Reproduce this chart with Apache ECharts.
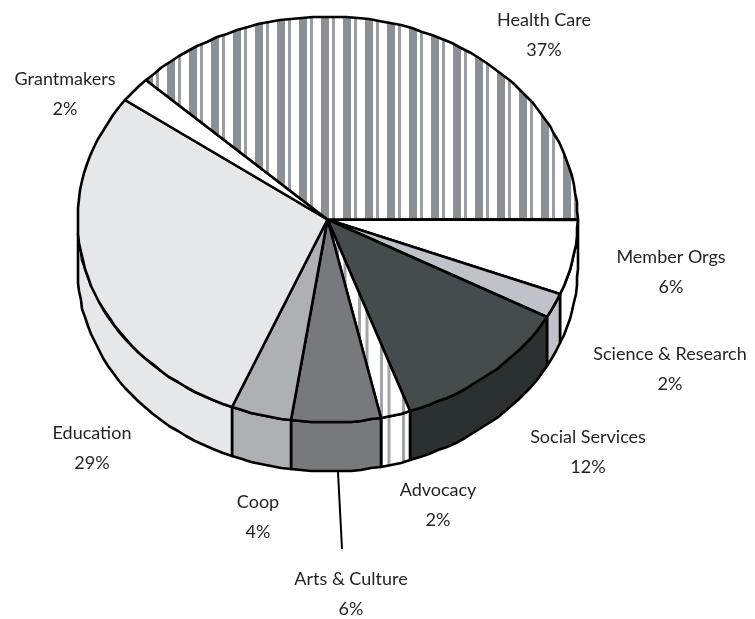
<!DOCTYPE html>
<html>
<head>
<meta charset="utf-8">
<style>html,body{margin:0;padding:0;background:#fff}#chart{width:755px;height:619px}</style>
<script src="https://cdn.jsdelivr.net/npm/echarts@6/dist/echarts.min.js"></script>
</head>
<body>
<div id="chart"></div>
<script>
// Share of funding by sector, percent, clockwise from three o'clock.
const sectors = ['Member Orgs', 'Science & Research', 'Social Services', 'Advocacy', 'Arts & Culture', 'Coop', 'Education', 'Grantmakers', 'Health Care'];
const shares = [6, 2, 12, 2, 6, 4, 29, 2, 37];

// Appearance of each sector; a pattern key selects a striped fill.
const faceFills = ['#ffffff', '#bfc2c9', '#444c4e', 'thin', '#78797c', '#aeb1b3', '#e6e7e8', '#ffffff', 'wide'];
const wallFills = ['#ffffff', '#bfc2c9', '#2b3130', 'thin', '#78797c', '#aeb1b3', '#e6e7e8', '#ffffff', 'wide'];

// Pie geometry in pixels.
const CX = 327.5, CY = 219.5, RX = 250, RY = 203, DEPTH = 49;
// Degrees of angular compression from the tilted viewpoint, largest at the far left.
const TILT_SKEW = 4;

// Where each two-line label is centred.
const labelCentres = [
  [671, 272], [670, 369], [588, 452], [438, 505], [351, 594], [258, 517], [92, 448], [65, 94], [544, 35]
];

function stripeTile(stripes) {
  const c = document.createElement('canvas');
  c.width = 22; c.height = 4;
  const g = c.getContext('2d');
  g.fillStyle = '#ffffff';
  g.fillRect(0, 0, 22, 4);
  stripes.forEach(function (s) {
    g.fillStyle = s[2];
    g.fillRect(s[0], 0, s[1], 4);
  });
  return { image: c, repeat: 'repeat' };
}
const patterns = {
  wide: stripeTile([[13, 8, '#8b9094'], [2, 3, '#9a9ea2']]),
  thin: stripeTile([[6, 3, '#a2a5a7'], [13.5, 3, '#a2a5a7']])
};
const fillOf = function (key) { return patterns[key] || key; };

// Sector angle as seen from the tilted viewpoint.
function viewAngle(deg) {
  const a = deg * Math.PI / 180;
  return deg - TILT_SKEW * (1 - Math.cos(a)) / 2;
}

// Outline points are snapped to whole pixels, which gives the rim its stepped look.
function rim(deg, drop) {
  const a = viewAngle(deg) * Math.PI / 180;
  return [Math.round(CX + RX * Math.cos(a)), Math.round(CY + RY * Math.sin(a) + drop)];
}
function arc(from, to, drop) {
  const pts = [];
  const n = Math.max(1, Math.ceil(Math.abs(to - from) / 2.5));
  for (let i = 0; i <= n; i++) pts.push(rim(from + (to - from) * i / n, drop));
  return pts;
}

const total = shares.reduce(function (a, b) { return a + b; }, 0);
let running = 0;
const spans = shares.map(function (v) {
  const s = running;
  running += v;
  return [s / total * 360, running / total * 360];
});

const OUTLINE = { stroke: '#000000', lineWidth: 2.6, lineJoin: 'round' };

function renderSector(params, api) {
  const i = api.value(0);
  const from = spans[i][0], to = spans[i][1];
  const children = [];
  // Only the front half of the pie shows a side wall.
  if (from < 180) {
    const end = Math.min(to, 180);
    const wall = arc(from, end, 0).concat(arc(end, from, DEPTH));
    children.push({
      type: 'polygon', z2: 1,
      shape: { points: wall },
      style: Object.assign({ fill: fillOf(wallFills[i]) }, OUTLINE)
    });
  }
  const face = [[CX, CY]].concat(arc(from, to, 0));
  children.push({
    type: 'polygon', z2: 2,
    shape: { points: face },
    style: Object.assign({ fill: fillOf(faceFills[i]) }, OUTLINE)
  });
  return { type: 'group', children: children };
}

function renderLabels(params, api) {
  const i = api.value(0);
  const p = labelCentres[i];
  return {
    type: 'text', z2: 5,
    x: p[0], y: p[1],
    style: {
      text: sectors[i] + '\n' + shares[i] + '%',
      fill: '#231f20',
      font: '18px Lato',
      lineHeight: 30.5,
      align: 'center',
      verticalAlign: 'middle'
    }
  };
}

const chart = echarts.init(document.getElementById('chart'), null, { renderer: 'canvas' });
const rows = sectors.map(function (name, i) { return [i, shares[i], name]; });

chart.setOption({
  animation: false,
  backgroundColor: '#ffffff',
  xAxis: { show: false, min: 0, max: 1 },
  yAxis: { show: false, min: 0, max: 1 },
  grid: { left: 0, right: 0, top: 0, bottom: 0 },
  series: [
    { type: 'custom', coordinateSystem: 'none', data: rows, renderItem: renderSector, silent: true, z: 2 },
    { type: 'custom', coordinateSystem: 'none', data: rows, renderItem: renderLabels, silent: true, z: 4 }
  ],
  graphic: [{
    type: 'line', z: 3,
    shape: { x1: 338, y1: 472, x2: 342, y2: 549 },
    style: { stroke: '#000000', lineWidth: 2 }
  }]
});
</script>
</body>
</html>
